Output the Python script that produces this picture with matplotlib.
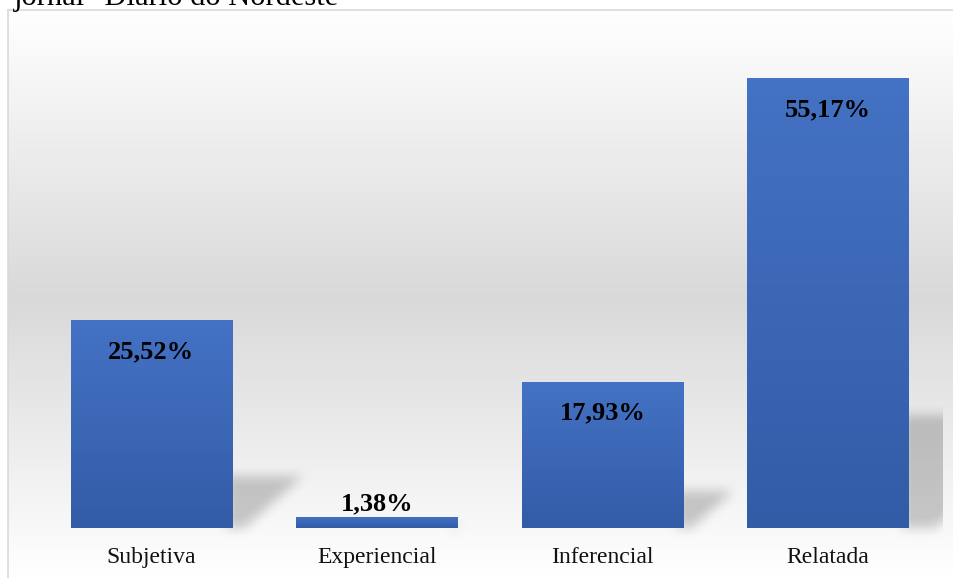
import numpy as np
import matplotlib
matplotlib.use("Agg")
import matplotlib.pyplot as plt

# data
categories = ["Subjetiva", "Experiencial", "Inferencial", "Relatada"]
values = [25.52, 1.38, 17.93, 55.17]
value_labels = ["25,52%", "1,38%", "17,93%", "55,17%"]
title_text = 'jornal "Diário do Nordeste"'

plt.rcParams["font.family"] = ["Liberation Serif", "DejaVu Serif"]

FIG_W, FIG_H = 954, 578
BAR_WIDTH = 0.714
XLIM = (-0.636, 3.559)
YLIM = (-6.13, 63.5)
BAR_TOP = np.array([68, 114, 196]) / 255
BAR_BOTTOM = np.array([51, 92, 167]) / 255


def box_blur(a, k):
    kernel = np.ones(k) / k
    a = np.apply_along_axis(lambda r: np.convolve(r, kernel, mode="same"), 1, a)
    a = np.apply_along_axis(lambda c: np.convolve(c, kernel, mode="same"), 0, a)
    return a


fig = plt.figure(figsize=(FIG_W / 100, FIG_H / 100), dpi=100)
ax = fig.add_axes([8 / FIG_W, 0, 946 / FIG_W, 568 / FIG_H])
ax.set_xlim(*XLIM)
ax.set_ylim(*YLIM)

# plot-area gradient: white -> light gray -> white
g = np.interp(np.linspace(0, 1, 400), [0, 0.51, 1], [1.0, 0.851, 1.0])
bg = np.stack([g, g, g], axis=-1)[:, None, :].repeat(2, axis=1)
ax.imshow(bg, extent=(*XLIM, *YLIM), origin="upper", aspect="auto", zorder=0)

# perspective shadows behind the bars
W, H = 946, 568
ppx = W / (XLIM[1] - XLIM[0])
ppy = H / (YLIM[1] - YLIM[0])
xs = XLIM[0] + (np.arange(W) + 0.5) / ppx
ys = YLIM[1] - (np.arange(H) + 0.5) / ppy
X, Y = np.meshgrid(xs, ys)
mask = np.zeros((H, W))
for i, v in enumerate(values):
    h_px = v * ppy
    sh = 0.25 * h_px
    w_top = 0.34 * h_px
    w_bot = 0.06 * h_px
    s = Y * ppy
    dx = (X - (i + BAR_WIDTH / 2)) * ppx
    inside = (s >= 0) & (s <= sh) & (dx >= -6) & (dx <= w_bot + (w_top - w_bot) * s / max(sh, 1e-6))
    mask[inside] = 1.0
mask = box_blur(box_blur(mask, 13), 13)
mask[:, xs > 3 + 115 / ppx] = 0
shadow = np.zeros((H, W, 4))
shadow[..., 3] = 0.2 * mask
ax.imshow(shadow, extent=(*XLIM, *YLIM), origin="upper", aspect="auto", zorder=1)

# bars with a vertical gradient fill
bars = ax.bar(range(len(values)), values, width=BAR_WIDTH, color=BAR_BOTTOM, zorder=2)
t = np.linspace(0, 1, 100)[:, None]
grad = (BAR_TOP[None, :] * (1 - t) + BAR_BOTTOM[None, :] * t)[:, None, :]
for bar, v in zip(bars, values):
    x0 = bar.get_x()
    img = ax.imshow(grad, extent=(x0, x0 + bar.get_width(), 0, v), origin="upper",
                    aspect="auto", zorder=3)
    img.set_clip_path(bar)

for i, (v, lab) in enumerate(zip(values, value_labels)):
    if v > 5:
        ax.text(i, v - 4.66, lab, ha="center", va="baseline", fontsize=19,
                fontweight="bold", color="black", zorder=4)
    else:
        ax.text(i, v + 0.74, lab, ha="center", va="baseline", fontsize=19,
                fontweight="bold", color="black", zorder=4)

for i, cat in enumerate(categories):
    ax.text(i, -4.29, cat, ha="center", va="baseline", fontsize=17, color="#111111", zorder=4)

ax.set_xticks([])
ax.set_yticks([])
for side in ["left", "top"]:
    ax.spines[side].set_color("#d9d9d9")
    ax.spines[side].set_linewidth(1.2)
for side in ["right", "bottom"]:
    ax.spines[side].set_visible(False)

# the caption above the chart is cut off by the image edge, as in the reference
fig.text(14 / FIG_W, 1 - 5 / FIG_H, title_text, fontsize=22, va="baseline", ha="left")

fig.savefig("out.png", dpi=100)
